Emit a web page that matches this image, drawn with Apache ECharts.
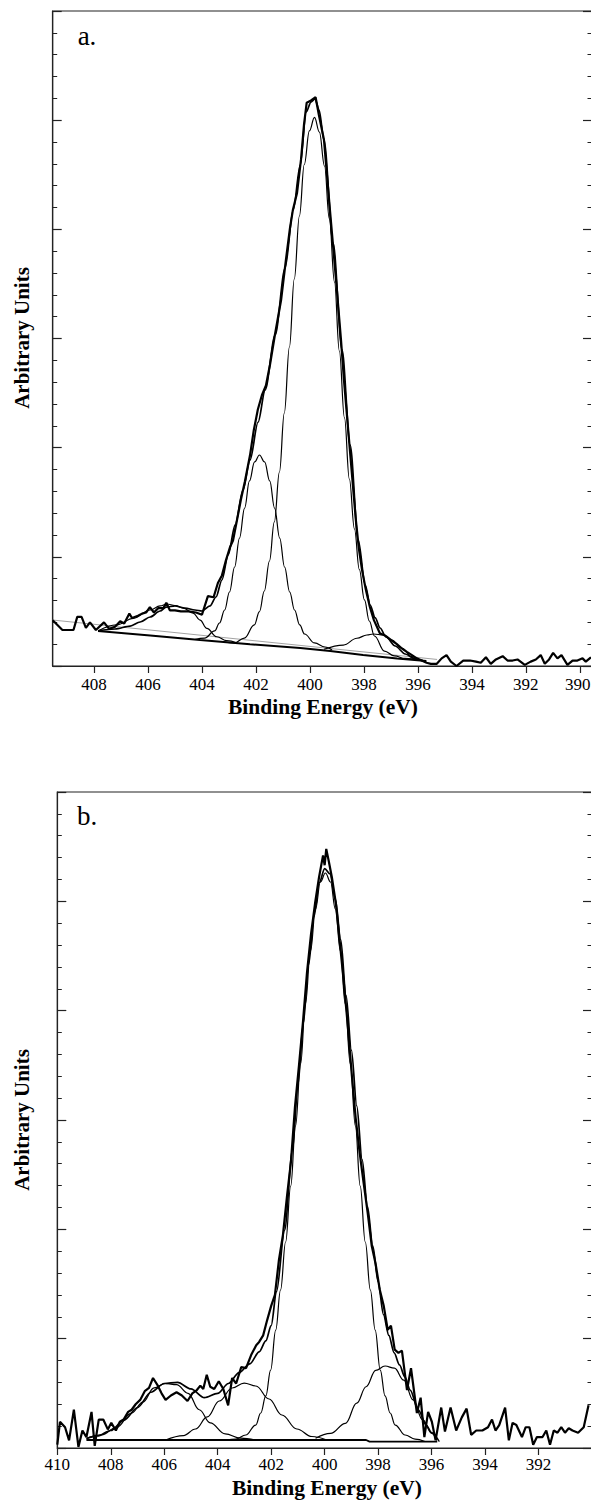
<!DOCTYPE html>
<html>
<head>
<meta charset="utf-8">
<script src="https://cdn.jsdelivr.net/npm/echarts@6/dist/echarts.min.js"></script>
<style>
  html, body { margin: 0; padding: 0; background: #fff; }
  #chart { width: 591px; height: 1502px; }
</style>
</head>
<body>
<div id="chart"></div>
<script>
// N 1s spectra: binding energy (eV) vs intensity (arbitrary units)

// ---- panel a ----
const aTicks = [390, 392, 394, 396, 398, 400, 402, 404, 406, 408];
const aRaw = [[409.53,0.42],[409.17,0.33],[408.76,0.33],[408.62,0.45],[408.46,0.45],[408.30,0.35],[408.15,0.40],[407.93,0.33],[407.63,0.40],[407.44,0.34],[407.22,0.36],[407.03,0.41],[406.88,0.39],[406.69,0.48],[406.59,0.44],[406.37,0.46],[406.22,0.48],[406.07,0.49],[405.93,0.54],[405.78,0.49],[405.62,0.53],[405.43,0.53],[405.32,0.58],[405.19,0.51],[405.00,0.51],[404.78,0.50],[404.50,0.50],[404.22,0.49],[404.00,0.47],[403.78,0.64],[403.57,0.63],[403.41,0.76],[403.26,0.83],[403.11,0.97],[402.96,1.09],[402.85,1.15],[402.70,1.34],[402.56,1.52],[402.41,1.69],[402.22,1.93],[402.08,2.16],[401.93,2.35],[401.78,2.48],[401.63,2.57],[401.48,2.76],[401.30,3.03],[401.07,3.35],[400.89,3.72],[400.74,4.01],[400.63,4.18],[400.48,4.33],[400.33,4.64],[400.22,4.96],[400.12,5.16],[399.96,5.18],[399.79,5.21],[399.67,5.05],[399.48,4.82],[399.37,4.50],[399.26,4.18],[399.15,3.87],[399.00,3.44],[398.85,2.99],[398.74,2.62],[398.63,2.30],[398.52,1.98],[398.41,1.66],[398.30,1.34],[398.19,1.08],[398.07,0.88],[397.93,0.70],[397.78,0.54],[397.63,0.42],[397.41,0.30],[397.22,0.28],[397.00,0.24],[396.78,0.20],[396.59,0.16],[396.41,0.13],[396.22,0.10],[396.04,0.07],[395.86,0.05],[395.68,0.03],[395.52,0.02],[395.30,0.02],[395.12,0.07],[394.94,0.10],[394.78,0.04],[394.57,0.00],[394.32,0.05],[394.07,0.05],[393.85,0.04],[393.67,0.03],[393.48,0.08],[393.30,0.02],[393.11,0.06],[392.86,0.09],[392.68,0.05],[392.49,0.05],[392.31,0.06],[392.04,0.01],[391.82,0.04],[391.63,0.06],[391.45,0.10],[391.30,0.02],[391.14,0.06],[390.99,0.12],[390.83,0.07],[390.68,0.10],[390.46,0.01],[390.27,0.05],[390.09,0.05],[389.90,0.07],[389.78,0.04],[389.59,0.08]];
const aFit = [[407.85,0.321],[407.22,0.339],[406.66,0.366],[406.29,0.403],[405.92,0.449],[405.55,0.504],[405.33,0.540],[405.00,0.550],[404.63,0.531],[404.26,0.513],[404.00,0.504],[403.70,0.550],[403.48,0.632],[403.26,0.788],[403.03,1.017],[402.77,1.292],[402.48,1.612],[402.22,1.887],[401.92,2.235],[401.66,2.528],[401.29,3.032],[400.92,3.646],[400.62,4.177],[400.36,4.589],[400.14,5.075],[399.96,5.166],[399.81,5.194],[399.66,5.093],[399.48,4.818],[399.14,3.875],[398.81,2.895],[398.51,2.024],[398.21,1.154],[397.95,0.742],[397.77,0.559],[397.58,0.440],[397.40,0.348],[397.18,0.266],[396.84,0.183],[396.47,0.110],[396.10,0.064],[395.73,0.041]];
const aPeak1 = [[403.20,0.222],[402.80,0.211],[402.43,0.256],[402.06,0.376],[401.87,0.499],[401.69,0.687],[401.50,0.962],[401.32,1.319],[401.13,1.777],[400.95,2.317],[400.76,2.922],[400.58,3.545],[400.39,4.122],[400.21,4.594],[400.02,4.901],[399.83,5.025],[399.65,4.891],[399.46,4.580],[399.28,4.095],[399.09,3.517],[398.91,2.885],[398.72,2.272],[398.54,1.713],[398.35,1.255],[398.17,0.884],[397.98,0.605],[397.80,0.412],[397.61,0.275],[397.24,0.137],[396.87,0.092],[396.47,0.069],[395.92,0.055]];
const aPeak2 = [[404.27,0.243],[403.90,0.256],[403.53,0.321],[403.35,0.394],[403.16,0.513],[402.98,0.678],[402.79,0.907],[402.61,1.172],[402.42,1.447],[402.24,1.695],[402.05,1.869],[401.87,1.933],[401.68,1.869],[401.49,1.695],[401.31,1.447],[401.12,1.172],[400.94,0.907],[400.75,0.678],[400.57,0.513],[400.38,0.376],[400.20,0.293],[399.83,0.211],[399.44,0.174],[399.18,0.147]];
const aPeak3 = [[407.85,0.321],[407.16,0.376],[406.54,0.437],[405.92,0.513],[405.55,0.550],[405.30,0.568],[405.00,0.554],[404.70,0.531],[404.33,0.485],[404.07,0.421],[403.82,0.345],[403.45,0.268],[403.08,0.232],[402.71,0.213]];
const aPeak4 = [[399.48,0.153],[398.76,0.192],[398.26,0.254],[397.89,0.284],[397.65,0.293],[397.28,0.284],[396.97,0.238],[396.60,0.162],[396.22,0.085],[395.98,0.055],[395.69,0.046]];
const aBase = [[407.85,0.321],[405.92,0.279],[404.07,0.238],[402.22,0.199],[400.36,0.165],[399.25,0.137],[398.03,0.101],[396.77,0.069],[395.69,0.046]];
const aLinear = [[409.53,0.421],[395.29,0.060]];

// ---- panel b ----
const bTicks = [392, 394, 396, 398, 400, 402, 404, 406, 408, 410];
const bRaw = [[410.00,0.03],[409.90,0.24],[409.71,0.19],[409.56,0.07],[409.38,0.35],[409.21,0.01],[409.06,0.16],[408.91,0.10],[408.72,0.33],[408.60,0.02],[408.45,0.26],[408.28,0.26],[408.11,0.17],[407.98,0.23],[407.81,0.16],[407.66,0.24],[407.52,0.26],[407.35,0.33],[407.22,0.35],[407.07,0.40],[406.90,0.44],[406.73,0.52],[406.57,0.55],[406.42,0.64],[406.24,0.57],[406.10,0.50],[405.95,0.44],[405.75,0.48],[405.54,0.51],[405.34,0.48],[405.13,0.43],[404.95,0.50],[404.78,0.53],[404.65,0.57],[404.54,0.54],[404.41,0.67],[404.28,0.56],[404.13,0.54],[403.96,0.61],[403.79,0.54],[403.61,0.39],[403.46,0.64],[403.31,0.59],[403.12,0.74],[402.94,0.73],[402.75,0.85],[402.56,0.94],[402.45,0.97],[402.30,1.03],[402.15,1.17],[402.00,1.30],[401.86,1.40],[401.71,1.72],[401.56,1.95],[401.41,2.30],[401.26,2.62],[401.11,3.12],[400.96,3.50],[400.81,3.90],[400.66,4.35],[400.51,4.70],[400.36,4.98],[400.21,5.22],[400.06,5.42],[400.00,5.33],[399.94,5.48],[399.84,5.36],[399.73,5.22],[399.58,4.98],[399.43,4.62],[399.28,4.25],[399.13,3.85],[398.98,3.40],[398.84,3.02],[398.69,2.70],[398.54,2.42],[398.39,2.15],[398.24,1.85],[398.09,1.68],[397.94,1.45],[397.79,1.30],[397.64,1.08],[397.52,1.12],[397.38,0.90],[397.24,0.87],[397.11,0.89],[396.92,0.53],[396.77,0.73],[396.55,0.32],[396.41,0.46],[396.27,0.10],[396.13,0.33],[395.99,0.24],[395.85,0.07],[395.64,0.37],[395.50,0.15],[395.29,0.37],[395.08,0.16],[394.87,0.28],[394.69,0.36],[394.52,0.12],[394.33,0.16],[394.10,0.16],[393.89,0.19],[393.74,0.26],[393.61,0.16],[393.47,0.21],[393.25,0.37],[393.11,0.07],[392.97,0.23],[392.83,0.21],[392.62,0.10],[392.48,0.19],[392.34,0.19],[392.20,0.03],[392.06,0.10],[391.85,0.10],[391.71,0.16],[391.57,0.03],[391.43,0.16],[391.29,0.14],[391.15,0.19],[391.01,0.14],[390.87,0.18],[390.73,0.16],[390.52,0.14],[390.31,0.19],[390.13,0.39]];
const bFit = [[408.91,0.085],[408.5,0.11],[408.0,0.16],[407.5,0.255],[407.0,0.37],[406.5,0.51],[406.0,0.59],[405.5,0.60],[405.0,0.54],[404.5,0.46],[404.0,0.50],[403.6,0.59],[403.2,0.69],[402.8,0.77],[402.45,0.88],[402.2,0.98],[402.0,1.12],[401.8,1.43],[401.5,1.99],[401.2,2.73],[401.0,3.32],[400.8,3.88],[400.6,4.42],[400.4,4.86],[400.2,5.17],[400.0,5.30],[399.8,5.25],[399.6,5.02],[399.4,4.65],[399.2,4.14],[399.0,3.64],[398.8,3.13],[398.6,2.64],[398.4,2.21],[398.2,1.85],[398.0,1.52],[397.8,1.22],[397.6,1.03],[397.4,0.87],[397.2,0.76],[397.0,0.65],[396.8,0.53],[396.5,0.35],[396.2,0.21],[396.0,0.14],[395.79,0.07]];
const bPeak1 = [[403.69,0.073],[403.32,0.082],[402.95,0.119],[402.58,0.210],[402.39,0.320],[402.20,0.476],[402.02,0.713],[401.83,1.079],[401.65,1.445],[401.46,1.884],[401.27,2.396],[401.09,2.945],[400.90,3.512],[400.72,4.061],[400.53,4.546],[400.34,4.930],[400.16,5.177],[399.97,5.259],[399.78,5.177],[399.60,4.930],[399.41,4.546],[399.23,4.061],[399.04,3.512],[398.85,2.945],[398.67,2.396],[398.48,1.884],[398.29,1.445],[398.11,1.079],[397.92,0.713],[397.74,0.476],[397.55,0.320],[397.36,0.210],[396.99,0.119],[396.62,0.082],[396.25,0.060]];
const bPeak2 = [[405.95,0.073],[405.28,0.114],[404.83,0.174],[404.39,0.284],[403.94,0.430],[403.46,0.549],[403.01,0.594],[402.57,0.567],[402.08,0.448],[401.60,0.302],[401.04,0.174],[400.48,0.105],[399.92,0.073]];
const bPeak3 = [[408.91,0.089],[408.34,0.12],[407.78,0.19],[407.22,0.32],[406.80,0.42],[406.38,0.55],[405.96,0.59],[405.54,0.58],[405.11,0.50],[404.69,0.35],[404.28,0.23],[403.72,0.13],[403.15,0.09],[402.60,0.073]];
const bPeak4 = [[400.34,0.089],[399.78,0.134],[399.22,0.226],[398.80,0.41],[398.45,0.56],[398.09,0.71],[397.74,0.75],[397.39,0.73],[397.04,0.62],[396.69,0.44],[396.34,0.26],[395.99,0.134],[395.71,0.058]];
const bBase = [[408.91,0.073],[398.45,0.073],[398.32,0.058],[395.79,0.058]];

const SERIF = 'Liberation Serif, Times New Roman, serif';
const INK = '#000';
const FRAME = '#222';

function yAxisFor(gridIndex, position) {
  return {
    type: 'value', gridIndex, position, min: 0, max: 6, interval: 1,
    axisLine: { show: true, lineStyle: { color: FRAME, width: 1.2 } },
    axisTick: { show: true, inside: true, length: 9, lineStyle: { color: FRAME, width: 1.2 } },
    minorTick: { show: true, splitNumber: 5, length: 4.5, lineStyle: { color: FRAME, width: 1 } },
    axisLabel: { show: false },
    splitLine: { show: false },
    minorSplitLine: { show: false }
  };
}

// tick labels set in serif; the label sitting on the right edge is nudged inward
const tickText = { fontFamily: SERIF, fontSize: 17, color: INK };
function xAxisFor(gridIndex, min, max, ticks, margin) {
  return {
    type: 'value', gridIndex, position: 'bottom', inverse: true, min, max,
    axisLine: { show: true, onZero: false, lineStyle: { color: FRAME, width: 1.2 } },
    axisTick: { show: true, inside: false, length: 7, customValues: ticks, lineStyle: { color: FRAME, width: 1.2 } },
    axisLabel: {
      show: true, customValues: ticks, margin,
      color: INK, fontFamily: SERIF, fontSize: 17,
      formatter: v => (v <= 390 ? '{edge|' + v + '}' : '{t|' + v + '}'),
      rich: {
        t: tickText,
        edge: Object.assign({ padding: [0, 4, 0, 0] }, tickText)
      }
    },
    splitLine: { show: false }
  };
}

function curve(data, panel, width, opts) {
  const o = opts || {};
  return {
    type: 'line', data, xAxisIndex: panel, yAxisIndex: panel * 2,
    symbol: 'none', showSymbol: false, silent: true,
    smooth: o.smooth || false, smoothMonotone: 'x',
    lineStyle: { color: o.color || INK, width },
    z: o.z || 2
  };
}

function label(text, x, y, size, bold, rotate) {
  return {
    type: 'text', x, y, rotation: rotate ? Math.PI / 2 : 0, silent: true,
    style: {
      text, fill: INK,
      font: (bold ? 'bold ' : '') + size + 'px ' + SERIF,
      align: 'center', verticalAlign: 'middle',
      textAlign: 'center', textVerticalAlign: 'middle'
    }
  };
}

const chart = echarts.init(document.getElementById('chart'), null, { renderer: 'svg', width: 591, height: 1502 });

chart.setOption({
  animation: false,
  backgroundColor: '#fff',
  textStyle: { fontFamily: SERIF },
  grid: [
    { left: 52.7, top: 11, right: -1, height: 655, show: true, borderColor: FRAME, borderWidth: 1.2,
      backgroundColor: 'transparent', containLabel: false, outerBoundsMode: 'none' },
    { left: 57.3, top: 792, right: -1, height: 656, show: true, borderColor: FRAME, borderWidth: 1.2,
      backgroundColor: 'transparent', containLabel: false, outerBoundsMode: 'none' }
  ],
  xAxis: [
    xAxisFor(0, 389.55, 409.53, aTicks, 10),
    xAxisFor(1, 390, 410, bTicks, 8)
  ],
  yAxis: [
    yAxisFor(0, 'left'), yAxisFor(0, 'right'),
    yAxisFor(1, 'left'), yAxisFor(1, 'right')
  ],
  series: [
    curve(aLinear, 0, 0.8, { color: '#8a8a8a', z: 1 }),
    curve(aBase, 0, 2.0),
    curve(aPeak3, 0, 1.2, { smooth: 0.4 }),
    curve(aPeak2, 0, 1.2, { smooth: 0.4 }),
    curve(aPeak1, 0, 1.2, { smooth: 0.4 }),
    curve(aPeak4, 0, 1.2, { smooth: 0.4 }),
    curve(aFit, 0, 1.7, { smooth: 0.3 }),
    curve(aRaw, 0, 2.2, { z: 3 }),

    curve(bBase, 1, 1.8),
    curve(bPeak3, 1, 1.2, { smooth: 0.4 }),
    curve(bPeak2, 1, 1.2, { smooth: 0.4 }),
    curve(bPeak1, 1, 1.2, { smooth: 0.4 }),
    curve(bPeak4, 1, 1.2, { smooth: 0.4 }),
    curve(bFit, 1, 1.7, { smooth: 0.3 }),
    curve(bRaw, 1, 2.2, { z: 3 })
  ],
  graphic: [
    label('a.', 87, 36, 27, false, false),
    label('b.', 87, 816, 27, false, false),
    label('Binding Energy (eV)', 323, 707, 21.5, true, false),
    label('Binding Energy (eV)', 327, 1488, 21.5, true, false),
    label('Arbitrary Units', 22, 338, 21, true, true),
    label('Arbitrary Units', 22, 1120, 21, true, true)
  ]
});
</script>
</body>
</html>
